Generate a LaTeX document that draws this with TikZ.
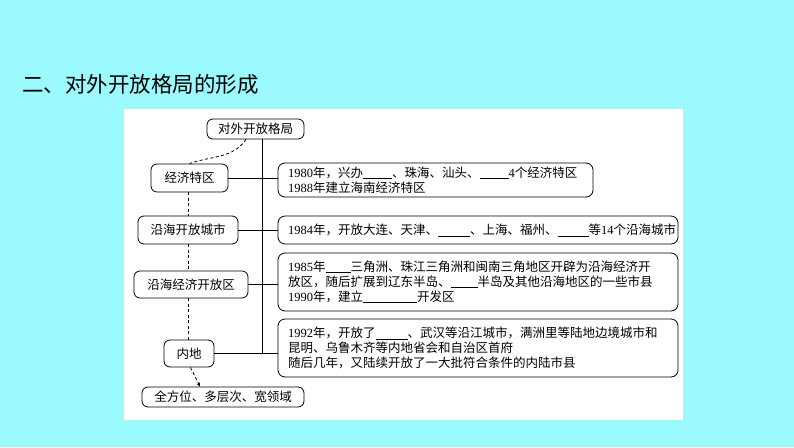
\documentclass[tikz,border=0pt]{standalone}
\usepackage{fontspec}
\setmainfont{Noto Sans CJK SC}
\newfontfamily\tnr{Liberation Serif}
\newcommand\yr[1]{{\tnr #1}}
\newcommand\blank[1]{\underline{\hspace{#1pt}}}
\usetikzlibrary{arrows.meta}
\definecolor{bgcyan}{RGB}{155,250,253}
\begin{document}
\begin{tikzpicture}[x=1pt,y=-1pt,
  txt/.style={font=\fontsize{12.5}{15}\selectfont},
  leftbox/.style={txt, draw, line width=0.8pt, rounded corners=6pt, inner sep=0pt, align=center},
  infobox/.style={txt, draw, line width=0.8pt, rounded corners=7pt, inner xsep=10pt, inner ysep=0pt, align=left},
  link/.style={line width=0.8pt},
  dashlink/.style={line width=0.8pt, dash pattern=on 3pt off 2.5pt}]
\useasboundingbox (0,0) rectangle (794,447);
\fill[bgcyan] (0,0) rectangle (794,447);
\fill[white] (124,109) rectangle (683,420);
\node[anchor=west, inner sep=0pt, font=\fontsize{21.5}{24}\selectfont] (title) at (22,84) {二、对外开放格局的形成};
% left column
\node[leftbox, minimum width=97pt, minimum height=20pt] (top) at (255.5,129) {对外开放格局};
\node[leftbox, minimum width=77pt, minimum height=28pt] (jjtq) at (189.5,178) {经济特区};
\node[leftbox, minimum width=100pt, minimum height=28pt] (yhcs) at (188,230) {沿海开放城市};
\node[leftbox, minimum width=114pt, minimum height=27pt] (yhjj) at (191,284.5) {沿海经济开放区};
\node[leftbox, minimum width=50pt, minimum height=27pt] (nd) at (189,353.5) {内地};
\node[leftbox, minimum width=162pt, minimum height=20pt] (qfw) at (223,397) {全方位、多层次、宽领域};
% right boxes
\node[infobox, text width=295pt, minimum height=34pt] (b1) at (435.5,180)
  {\yr{1980}年，兴办\blank{29}、珠海、汕头、\blank{29}\yr{4}个经济特区\\\yr{1988}年建立海南经济特区};
\node[infobox, text width=380pt, minimum height=28pt] (b2) at (478,230)
  {\yr{1984}年，开放大连、天津、\blank{32}、上海、福州、\blank{31}等\yr{14}个沿海城市};
\node[infobox, text width=380pt, minimum height=58pt] (b3) at (478,282)
  {\yr{1985}年\blank{25}三角洲、珠江三角洲和闽南三角地区开辟为沿海经济开\\放区，随后扩展到辽东半岛、\blank{27}半岛及其他沿海地区的一些市县\\\yr{1990}年，建立\blank{54}开发区};
\node[infobox, text width=380pt, minimum height=58pt] (b4) at (478,348)
  {\yr{1992}年，开放了\blank{32}、武汉等沿江城市，满洲里等陆地边境城市和\\昆明、乌鲁木齐等内地省会和自治区首府\\随后几年，又陆续开放了一大批符合条件的内陆市县};
% trunk and branches
\coordinate (tb) at (262,353.5);
\draw[link] (top.south -| tb) -- (tb);
\draw[link] (jjtq.east) -- (jjtq.east -| b1.west);
\draw[link] (yhcs.east) -- (yhcs.east -| b2.west);
\draw[link] (yhjj.east) -- (yhjj.east -| b3.west);
\draw[link] (nd.east) -- (nd.east -| b4.west);
% dashed chain
\coordinate (dx) at (188,0);
\draw[dashlink] ([xshift=-9.5pt]top.south) to[out=-125,in=20] (jjtq.north);
\draw[dashlink] (jjtq.south -| dx) -- (yhcs.north -| dx);
\draw[dashlink] (yhcs.south -| dx) -- (yhjj.north -| dx);
\draw[dashlink] (yhjj.south -| dx) -- (nd.north -| dx);
\draw[dashlink, -{Stealth[length=4pt,width=3.5pt]}] ([xshift=1.5pt]nd.south) -- ([xshift=-23pt]qfw.north);
\end{tikzpicture}
\end{document}
